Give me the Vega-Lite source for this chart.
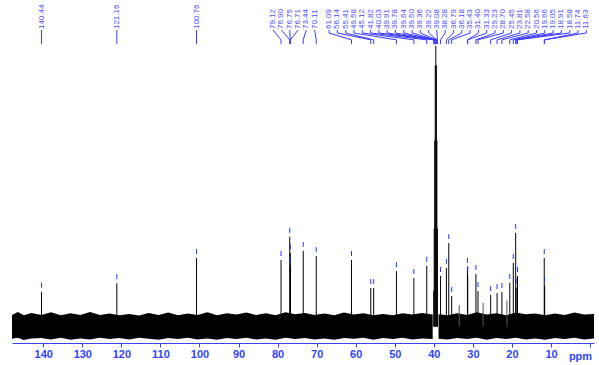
{
  "$schema": "https://vega.github.io/schema/vega-lite/v6.json",
  "width": 582,
  "height": 343,
  "autosize": {"type": "none"},
  "padding": {"left": 12, "top": 0, "right": 5, "bottom": 22},
  "background": "white",
  "config": {
    "view": {"stroke": null},
    "axisX": {
      "grid": false,
      "values": [0,1,2,3,4,5,6,7,8,9,10,11,12,13,14,15,16,17,18,19,20,21,22,23,24,25,26,27,28,29,30,31,32,33,34,35,36,37,38,39,40,41,42,43,44,45,46,47,48,49,50,51,52,53,54,55,56,57,58,59,60,61,62,63,64,65,66,67,68,69,70,71,72,73,74,75,76,77,78,79,80,81,82,83,84,85,86,87,88,89,90,91,92,93,94,95,96,97,98,99,100,101,102,103,104,105,106,107,108,109,110,111,112,113,114,115,116,117,118,119,120,121,122,123,124,125,126,127,128,129,130,131,132,133,134,135,136,137,138,139,140,141,142,143,144,145,146,147],
      "labelExpr": "(datum.value % 10 === 0 && datum.value >= 10 && datum.value <= 140) ? datum.label : ''",
      "labelOverlap": false,
      "labelFlush": false,
      "tickSize": {"condition": {"test": "datum.value % 10 === 0", "value": 4}, "value": 2},
      "tickColor": "#3344ff",
      "domainColor": "#3344ff",
      "labelColor": "#3344ff",
      "labelFont": "Liberation Sans",
      "labelFontWeight": "bold",
      "labelFontSize": 11,
      "labelPadding": 1,
      "titleColor": "#3344ff",
      "titleFont": "Liberation Sans",
      "titleFontWeight": "bold",
      "titleFontSize": 11,
      "titleX": 568,
      "titleY": 16,
      "titleAlign": "center",
      "titleBaseline": "alphabetic"
    }
  },
  "datasets": {
    "noise": [
      {"ppm": 148, "hi": 3.6, "lo": -3.7, "seg": "a"},
      {"ppm": 146.5, "hi": 4.5, "lo": -3.4, "seg": "a"},
      {"ppm": 145, "hi": 3.5, "lo": -4.1, "seg": "a"},
      {"ppm": 143, "hi": 4.2, "lo": -3.6, "seg": "a"},
      {"ppm": 140.5, "hi": 3.6, "lo": -3.5, "seg": "a"},
      {"ppm": 138, "hi": 4.4, "lo": -3.9, "seg": "a"},
      {"ppm": 135.5, "hi": 3.5, "lo": -3.4, "seg": "a"},
      {"ppm": 133, "hi": 4.1, "lo": -4.0, "seg": "a"},
      {"ppm": 130.5, "hi": 3.6, "lo": -3.6, "seg": "a"},
      {"ppm": 128, "hi": 4.5, "lo": -3.9, "seg": "a"},
      {"ppm": 125.5, "hi": 3.6, "lo": -3.4, "seg": "a"},
      {"ppm": 123, "hi": 4.0, "lo": -3.8, "seg": "a"},
      {"ppm": 120.5, "hi": 3.5, "lo": -3.5, "seg": "a"},
      {"ppm": 118, "hi": 3.9, "lo": -3.9, "seg": "a"},
      {"ppm": 115.5, "hi": 3.4, "lo": -3.4, "seg": "a"},
      {"ppm": 113, "hi": 4.2, "lo": -3.7, "seg": "a"},
      {"ppm": 110.5, "hi": 3.6, "lo": -4.0, "seg": "a"},
      {"ppm": 108, "hi": 4.3, "lo": -3.5, "seg": "a"},
      {"ppm": 105.5, "hi": 3.5, "lo": -3.8, "seg": "a"},
      {"ppm": 103, "hi": 4.0, "lo": -3.4, "seg": "a"},
      {"ppm": 100.5, "hi": 3.6, "lo": -3.9, "seg": "a"},
      {"ppm": 98, "hi": 4.4, "lo": -3.6, "seg": "a"},
      {"ppm": 95.5, "hi": 3.5, "lo": -4.0, "seg": "a"},
      {"ppm": 93, "hi": 4.1, "lo": -3.5, "seg": "a"},
      {"ppm": 90.5, "hi": 3.7, "lo": -3.8, "seg": "a"},
      {"ppm": 88, "hi": 4.3, "lo": -3.4, "seg": "a"},
      {"ppm": 85.5, "hi": 3.6, "lo": -3.9, "seg": "a"},
      {"ppm": 83, "hi": 4.1, "lo": -3.6, "seg": "a"},
      {"ppm": 80.5, "hi": 3.5, "lo": -4.0, "seg": "a"},
      {"ppm": 78, "hi": 4.4, "lo": -3.4, "seg": "a"},
      {"ppm": 75.5, "hi": 3.8, "lo": -3.8, "seg": "a"},
      {"ppm": 73, "hi": 4.2, "lo": -3.5, "seg": "a"},
      {"ppm": 70.5, "hi": 3.6, "lo": -3.9, "seg": "a"},
      {"ppm": 68, "hi": 4.0, "lo": -3.6, "seg": "a"},
      {"ppm": 65.5, "hi": 3.5, "lo": -4.0, "seg": "a"},
      {"ppm": 63, "hi": 4.3, "lo": -3.5, "seg": "a"},
      {"ppm": 60.5, "hi": 3.7, "lo": -3.7, "seg": "a"},
      {"ppm": 58, "hi": 4.1, "lo": -3.4, "seg": "a"},
      {"ppm": 55.5, "hi": 3.5, "lo": -4.0, "seg": "a"},
      {"ppm": 53, "hi": 3.9, "lo": -3.5, "seg": "a"},
      {"ppm": 50.5, "hi": 3.5, "lo": -3.8, "seg": "a"},
      {"ppm": 48, "hi": 4.1, "lo": -3.4, "seg": "a"},
      {"ppm": 45.5, "hi": 3.7, "lo": -3.9, "seg": "a"},
      {"ppm": 43, "hi": 4.2, "lo": -3.6, "seg": "a"},
      {"ppm": 40.3, "hi": 3.7, "lo": -3.8, "seg": "a"},
      {"ppm": 38.8, "hi": 3.8, "lo": -3.7, "seg": "b"},
      {"ppm": 36.5, "hi": 3.5, "lo": -3.9, "seg": "b"},
      {"ppm": 34, "hi": 4.1, "lo": -3.5, "seg": "b"},
      {"ppm": 31.5, "hi": 3.6, "lo": -3.8, "seg": "b"},
      {"ppm": 29, "hi": 4.4, "lo": -3.4, "seg": "b"},
      {"ppm": 26.5, "hi": 3.7, "lo": -4.0, "seg": "b"},
      {"ppm": 24, "hi": 4.1, "lo": -3.5, "seg": "b"},
      {"ppm": 21.5, "hi": 3.5, "lo": -3.8, "seg": "b"},
      {"ppm": 19, "hi": 4.3, "lo": -3.4, "seg": "b"},
      {"ppm": 16.5, "hi": 3.8, "lo": -3.9, "seg": "b"},
      {"ppm": 14, "hi": 4.0, "lo": -3.6, "seg": "b"},
      {"ppm": 11.5, "hi": 3.5, "lo": -4.0, "seg": "b"},
      {"ppm": 9, "hi": 4.0, "lo": -3.5, "seg": "b"},
      {"ppm": 6.5, "hi": 3.6, "lo": -3.8, "seg": "b"},
      {"ppm": 4, "hi": 4.3, "lo": -3.4, "seg": "b"},
      {"ppm": 1.5, "hi": 3.7, "lo": -3.9, "seg": "b"},
      {"ppm": -1, "hi": 3.9, "lo": -3.6, "seg": "b"}
    ],
    "peaks": [
      {"ppm": 140.44, "h": 10.7, "lab": "140.44", "grp": "a"},
      {"ppm": 121.16, "h": 13.3, "lab": "121.16", "grp": "b"},
      {"ppm": 100.76, "h": 21.0, "lab": "100.76", "grp": "c"},
      {"ppm": 79.12, "h": 20.4, "lab": "79.12", "grp": "d"},
      {"ppm": 76.90, "h": 27.5, "lab": "76.90", "grp": "d"},
      {"ppm": 76.75, "h": 22.5, "lab": "76.75", "grp": "d"},
      {"ppm": 76.71, "h": 18.5, "lab": "76.71", "grp": "d"},
      {"ppm": 73.44, "h": 23.2, "lab": "73.44", "grp": "d"},
      {"ppm": 70.11, "h": 21.6, "lab": "70.11", "grp": "d"},
      {"ppm": 61.09, "h": 20.4, "lab": "61.09", "grp": "e"},
      {"ppm": 56.14, "h": 11.8, "lab": "56.14", "grp": "e"},
      {"ppm": 55.41, "h": 11.8, "lab": "55.41", "grp": "e"},
      {"ppm": 49.58, "h": 17.0, "lab": "49.58", "grp": "e"},
      {"ppm": 45.12, "h": 14.9, "lab": "45.12", "grp": "e"},
      {"ppm": 41.82, "h": 18.6, "lab": "41.82", "grp": "e"},
      {"ppm": 40.03, "h": 11.0, "lab": "40.03", "grp": "e"},
      {"ppm": 39.91, "h": 30.0, "lab": "39.91", "grp": "e"},
      {"ppm": 39.78, "h": 57.0, "lab": "39.78", "grp": "e"},
      {"ppm": 39.64, "h": 80.0, "lab": "39.64", "grp": "e"},
      {"ppm": 39.50, "h": 86.0, "lab": "39.50", "grp": "e"},
      {"ppm": 39.36, "h": 80.0, "lab": "39.36", "grp": "e"},
      {"ppm": 39.22, "h": 57.0, "lab": "39.22", "grp": "e"},
      {"ppm": 39.08, "h": 30.0, "lab": "39.08", "grp": "e"},
      {"ppm": 38.28, "h": 15.5, "lab": "38.28", "grp": "e"},
      {"ppm": 36.79, "h": 18.0, "lab": "36.79", "grp": "e"},
      {"ppm": 36.18, "h": 25.6, "lab": "36.18", "grp": "e"},
      {"ppm": 35.43, "h": 9.4, "lab": "35.43", "grp": "e"},
      {"ppm": 31.40, "h": 18.3, "lab": "31.40", "grp": "e"},
      {"ppm": 31.33, "h": 15.8, "lab": "31.33", "grp": "e"},
      {"ppm": 29.23, "h": 16.1, "lab": "29.23", "grp": "e"},
      {"ppm": 28.70, "h": 10.9, "lab": "28.70", "grp": "e"},
      {"ppm": 25.45, "h": 9.7, "lab": "25.45", "grp": "e"},
      {"ppm": 23.81, "h": 10.3, "lab": "23.81", "grp": "e"},
      {"ppm": 22.58, "h": 10.6, "lab": "22.58", "grp": "e"},
      {"ppm": 20.56, "h": 13.4, "lab": "20.56", "grp": "e"},
      {"ppm": 19.66, "h": 19.5, "lab": "19.66", "grp": "e"},
      {"ppm": 19.05, "h": 28.7, "lab": "19.05", "grp": "e"},
      {"ppm": 18.91, "h": 12.0, "lab": "18.91", "grp": "e"},
      {"ppm": 18.58, "h": 15.5, "lab": "18.58", "grp": "e"},
      {"ppm": 11.74, "h": 21.0, "lab": "11.74", "grp": "e"},
      {"ppm": 11.63, "h": 12.5, "lab": "11.63", "grp": "e"}
    ],
    "extra": [
      {"ppm": 33.5, "h": 6.6},
      {"ppm": 27.4, "h": 7.3},
      {"ppm": 21.3, "h": 8.0}
    ]
  },
  "layer": [
    {
      "data": {"name": "noise"},
      "mark": {"type": "area", "color": "black", "interpolate": "linear"},
      "encoding": {
        "x": {
          "field": "ppm", "type": "quantitative", "title": "ppm",
          "scale": {"domain": [-1, 148], "reverse": true, "nice": false, "zero": false}
        },
        "y": {"field": "hi", "type": "quantitative", "scale": {"domain": [-5, 100], "nice": false, "zero": false}, "axis": null},
        "y2": {"field": "lo"},
        "detail": {"field": "seg"}
      }
    },
    {
      "data": {"name": "extra"},
      "mark": {"type": "rule", "color": "#555555", "strokeWidth": 1},
      "encoding": {
        "x": {"field": "ppm", "type": "quantitative", "title": "ppm"},
        "y": {"field": "h", "type": "quantitative", "axis": null},
        "y2": {"datum": 0}
      }
    },
    {
      "data": {"name": "peaks"},
      "mark": {"type": "rule", "color": "black", "strokeWidth": 1},
      "encoding": {
        "x": {"field": "ppm", "type": "quantitative", "title": "ppm"},
        "y": {"field": "h", "type": "quantitative", "axis": null},
        "y2": {"datum": 0}
      }
    },
    {
      "data": {"name": "peaks"},
      "transform": [{"filter": "datum.ppm > 40.1 || datum.ppm < 39"}],
      "mark": {"type": "rule", "color": "#2233ff", "strokeWidth": 1, "yOffset": -9, "y2Offset": -4},
      "encoding": {
        "x": {"field": "ppm", "type": "quantitative", "title": "ppm"},
        "y": {"field": "h", "type": "quantitative", "axis": null},
        "y2": {"field": "h"}
      }
    },
    {
      "data": {"name": "peaks"},
      "transform": [
        {"window": [{"op": "row_number", "as": "i"}], "groupby": ["grp"], "sort": [{"field": "ppm", "order": "descending"}]},
        {"calculate": "datum.grp === 'd' ? 81.15 - (datum.i - 1) * 2.124 : (datum.grp === 'e' ? 66.82 - (datum.i - 1) * 2.124 : datum.ppm)", "as": "lx"}
      ],
      "layer": [
        {
          "mark": {"type": "text", "angle": 270, "align": "left", "baseline": "middle", "font": "Liberation Sans", "fontSize": 8, "color": "#4a4aff"},
          "encoding": {
            "x": {"field": "lx", "type": "quantitative", "title": "ppm"},
            "y": {"datum": 91.1, "type": "quantitative"},
            "text": {"field": "lab"}
          }
        },
        {
          "transform": [{"filter": "datum.grp === 'e'"}],
          "mark": {"type": "rule", "color": "#3a3aff", "strokeWidth": 1},
          "encoding": {
            "x": {"field": "lx", "type": "quantitative", "title": "ppm"},
            "y": {"datum": 90.8, "type": "quantitative"},
            "y2": {"datum": 89.9}
          }
        },
        {
          "transform": [{"filter": "datum.grp === 'e'"}],
          "mark": {"type": "rule", "color": "#3a3aff", "strokeWidth": 1},
          "encoding": {
            "x": {"field": "lx", "type": "quantitative", "title": "ppm"},
            "x2": {"field": "ppm"},
            "y": {"datum": 89.9, "type": "quantitative"},
            "y2": {"datum": 87.8}
          }
        },
        {
          "transform": [{"filter": "datum.grp === 'd'"}],
          "mark": {"type": "rule", "color": "#3a3aff", "strokeWidth": 1},
          "encoding": {
            "x": {"field": "lx", "type": "quantitative", "title": "ppm"},
            "x2": {"field": "ppm"},
            "y": {"datum": 90.8, "type": "quantitative"},
            "y2": {"datum": 87.8}
          }
        },
        {
          "transform": [{"filter": "datum.grp === 'd' || datum.grp === 'e'"}],
          "mark": {"type": "rule", "color": "#3a3aff", "strokeWidth": 1},
          "encoding": {
            "x": {"field": "ppm", "type": "quantitative", "title": "ppm"},
            "y": {"datum": 87.8, "type": "quantitative"},
            "y2": {"datum": 86.5}
          }
        },
        {
          "transform": [{"filter": "datum.grp === 'a' || datum.grp === 'b' || datum.grp === 'c'"}],
          "mark": {"type": "rule", "color": "#3a3aff", "strokeWidth": 1},
          "encoding": {
            "x": {"field": "ppm", "type": "quantitative", "title": "ppm"},
            "y": {"datum": 90.8, "type": "quantitative"},
            "y2": {"datum": 86.5}
          }
        }
      ]
    }
  ]
}
